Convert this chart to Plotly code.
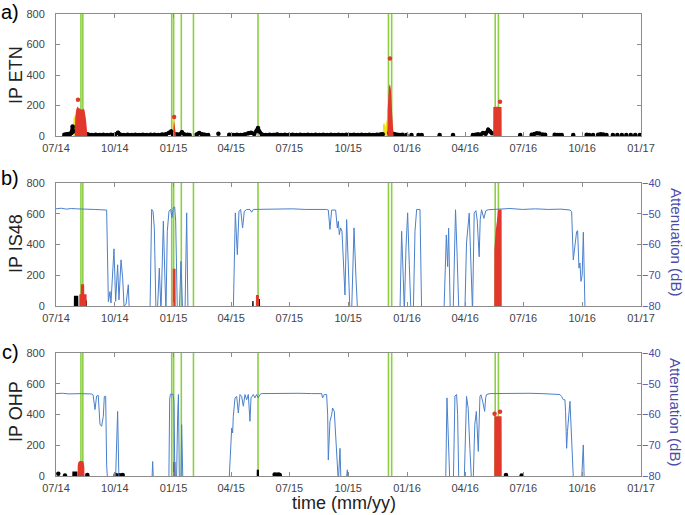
import pandas as pd
import plotly.graph_objects as go

# ---------------- data ----------------
T0 = pd.Timestamp("2014-07-01")          # day 0 of the record
T_END = "2017-01-01"

# eruptive events (green vertical lines)
event_dates = ["2014-08-09", "2014-08-12", "2014-12-29", "2015-01-01", "2015-01-13",
               "2015-02-01", "2015-05-13", "2015-12-03", "2015-12-08", "2016-05-18", "2016-05-23"]

# ---- panel a: IP ETN (days since 2014-07-01) ----
etn_base_day = [13, 16, 19, 22, 24, 26, 27, None,
                48, 51, 56, 62, 68, 74, 80, 86, 92, 97, 100, 106, 112, 118, 124, 130, 136, 142, 148, 154, 160, 166, 172, 177, 180, 183, None,
                188, 192, 197, 201, 206, 209, None,
                220, 224, 228, 232, 238, None,
                271, 277, 283, 289, 295, 301, 305, 310, 314, 316, 318, 322, 328, 334, 340, 346, 352, 358, 364, 370, 376, 382,
                388, 394, 400, 406, 412, 418, 424, 430, 436, 442, 448, 454, 460, 466, 472, 478, 484, 490, 496, 502, 508, 511, None,
                652, 656, 660, 664, 668, 672, 676, 679, 682]
etn_base_ip = [8, 10, 12, 14, 20, 62, 30, None,
               14, 8, 7, 9, 6, 8, 7, 9, 8, 22, 10, 7, 8, 6, 9, 7, 8, 6, 9, 8, 7, 10, 12, 22, 30, 10, None,
               12, 8, 24, 10, 8, 6, None,
               10, 20, 12, 8, 6, None,
               8, 6, 9, 7, 10, 18, 22, 14, 35, 52, 30, 10, 7, 9, 6, 10, 7, 9, 6, 8, 7, 9,
               6, 8, 7, 9, 6, 8, 7, 9, 6, 8, 7, 9, 6, 8, 7, 9, 6, 8, 7, 9, 10, 12, None,
               6, 8, 12, 9, 20, 15, 41, 30, 18]
etn_dot_day = [254, 521, 527, 530, 534, 538, 542, 548, 556, 567, 572, 600, 621, 726, 744, 748, 752, 756, 761, 765,
               780, 784, 788, 791, 809, 830, 834, 840, 848, 852, 856, 861, 871, 878, 885, 892, 899, 906, 913]
etn_dot_ip = [15, 20, 15, 12, 8, 6, 8, 7, 6, 7, 6, 6, 7, 6, 8, 14, 18, 16, 10, 8,
              8, 6, 7, 6, 6, 8, 6, 7, 8, 12, 10, 6, 7, 6, 7, 6, 7, 6, 6]
etn_yellow_day = [26.8, 27.2, 28.3, 29.5, 30.2, 181.8, 182.4, 183.5, 185, 186, 510.8, 511.5, 513.5, 515.5, 517, 518.5]
etn_yellow_ip = [0, 110, 140, 120, 0, 0, 110, 133, 120, 0, 0, 75, 85, 60, 118, 0]
etn_red_day = [29.4, 30, 31.5, 33.4, 35, 37, 39, 41, 42.7, 44.5, 46.5, 48, 49,
               183.3, 183.8, 184.6, 185.5, 186.5, 187.7,
               518.2, 518.7, 520.8, 522.4, 523.9, 525.5, 527.6, 528,
               683.8, 684, 690, 696.9, 697.1]
etn_red_ip = [0, 120, 170, 194, 186, 180, 176, 170, 178, 172, 120, 60, 0,
              0, 60, 96, 80, 40, 0,
              0, 170, 325, 340, 303, 170, 30, 0,
              0, 190, 192, 190, 0]
etn_reddot_day = [34.4, 184.8, 522.4, 694.5]
etn_reddot_ip = [238, 124, 508, 225]

# ---- panel b: IP IS48 ----
is48_black_day = [27.9, 28, 34.8, 35, 45.5, 45.6, 48.4, 48.5, 306.8, 307, 309, 309.2, 317.5, 317.6, 319, 319.2]
is48_black_ip = [0, 67, 67, 0, 0, 35, 35, 0, 0, 33, 33, 0, 0, 45, 45, 0]
is48_red_day = [36.4, 36.5, 38.8, 39, 44, 44.2, 47.8, 48,
                182.4, 182.6, 187, 187.2,
                312.6, 312.8, 317.3, 317.5,
                685.4, 685.6, 687.7, 689.8, 691.3, 697, 697.2]
is48_red_ip = [0, 76, 76, 142, 142, 76, 76, 0,
               0, 242, 242, 0,
               0, 72, 72, 0,
               0, 366, 486, 560, 628, 628, 0]
is48_att_day = [0, 8, 16, 24, 32, 45, 60, 70, 79.2, 81.9, 84.5, 86, 90.7, 93.3, 96.4, 98.5, 101.7, 104.3, 106.4, 109.5, 113.1, 114.7,
                147, 149.6, 151.7, 153.8, 156.4, 158.5, 161.6, 164.2, 167.9, 170.5, 172, 174.1, 176.7, 179.3, 181.4, 183.5, 185.6,
                187.2, 189.8, 192.9, 195.5, 198.1, 201.8, 204.4, 206.4,
                277.3, 280.5, 283.6, 286.2, 288.8, 291.9, 294.5, 298.2, 303.4, 306, 308.6, 330, 350, 370, 390, 410, 423.3, 425.9,
                428.5, 431.1, 437.4, 440, 441.6, 443.1, 445.2, 447.3, 449.4, 452, 454.6, 457.2, 459.8, 462.4, 466.1, 469.2, 471.8,
                538, 540.6, 543.2, 544.8, 547.4, 550, 552.6, 555.2, 558.9, 561.5, 564.1, 569.3, 571.9,
                606.8, 610.5, 612.6, 614.1, 616.7, 621.2, 624.9, 627.5, 630.1, 639.5, 642.1, 646.3, 648.9, 651.5, 654.1, 656.7,
                658.8, 661.9, 663.5, 665.6, 669.2, 672.4, 676, 690, 710, 730, 750, 770, 790, 803.9, 806.5, 809.1, 811.7, 814.3,
                815.9, 818, 819.5, 821.1, 823, 824.8, 827.5]
is48_att_db = [-48.4, -48.2, -48.5, -48.3, -48.4, -48.6, -48.6, -48.7, -48.8, -78.6, -75.3, -79, -61.4, -78.5, -66.6, -78, -65, -71, -80, -79.5, -73.1, -82,
               -82, -48.6, -49.2, -54.6, -82, -82, -67.7, -82, -52.4, -72.1, -82, -55.7, -49.2, -48.6, -51.3, -48, -47.8,
               -52.4, -82, -82, -65.5, -82, -82, -49.7, -82,
               -82, -49.7, -63.3, -49.2, -48.6, -54.6, -49.2, -48.6, -48.6, -49.5, -48.6, -48.5, -48.6, -48.4, -48.6, -48.5, -48.6, -48.8,
               -55.1, -48.8, -48.8, -54.6, -52.4, -56.8, -54.6, -55.7, -63.3, -76.4, -51.9, -66.6, -82, -82, -54.6, -71, -82,
               -82, -55.7, -71, -82, -61.1, -49.7, -66.6, -82, -82, -55.7, -48.6, -48.6, -82,
               -82, -56.9, -67.2, -54.7, -82, -82, -48.7, -64.2, -82, -82, -59.5, -49.8, -64.2, -82, -49.8, -49,
               -52, -64, -52, -48.7, -51.5, -49, -48.7, -48.5, -48.3, -48.6, -48.4, -48.6, -48.5, -48.8, -49.3, -65, -59.5, -55.8,
               -55.5, -67.7, -66, -72, -70, -56, -82]

# ---- panel c: IP OHP ----
ohp_black_day = [25.5, 25.6, 33.5, 33.6, 313.9, 314, 317.5, 317.6]
ohp_black_ip = [0, 30, 30, 0, 0, 40, 40, 0]
ohp_dot_day = [3.6, 14.1, 49, 93.3, 97.5, 100, 104.3, 342, 345, 348, 350, 703.8, 728.3]
ohp_dot_ip = [15, 4, 6, 6, 3, 5, 6, 10, 8, 9, 6, 7, 3]
ohp_red_day = [33.8, 34, 35, 37, 41, 43, 44.3, 44.5,
               182.9, 183.1, 185.5, 187, 187.2,
               685.4, 685.6, 697, 697.2]
ohp_red_ip = [0, 70, 90, 98, 98, 92, 60, 0,
              0, 90, 94, 90, 0,
              0, 388, 388, 0]
ohp_reddot_day = [686, 694.5]
ohp_reddot_ip = [405, 418]
ohp_att_day = [0, 10, 20, 30, 40, 50, 55.8, 58, 61, 63.5, 66.1, 68.8, 71.4, 74, 75.6, 77.7, 79.2, 80.8,
               93, 96.4, 98.5,
               150, 151.2, 152.4,
               176.5, 177.8, 179, 183, 184.5, 186, 188.5, 190.3, 191.5, 193, 195.5, 196.5, 198.5,
               270.6, 274.8, 276.3, 277.3, 280, 282.6, 285.2, 287.8, 290.4, 293, 295.6, 298.2, 300.8, 303.4, 305, 308.6, 311.2,
               313.8, 316.4, 319, 321.7, 340, 360, 380, 400, 415.5, 417, 419.6, 423.3, 424.9, 425.9, 428.5, 431.1, 432.7, 435.3,
               437.4, 439.5, 441.6, 444.2, 445.7,
               453.6, 455.7, 456.7,
               609.5, 611.5, 613.5, 616,
               621.5, 624, 626.6, 628.2, 630,
               638.5, 642.1, 644.7, 647.3, 650, 652.5, 655, 657.5, 660.5, 663.1, 664.7, 667.3, 670.5, 672, 673.5, 678.7, 700,
               720, 740, 760, 780, 788.2, 790.8, 793.5, 796, 797, 798.7, 800, 803.9, 806, 809.4,
               822, 824.7, 826.3]
ohp_att_db = [-53.2, -53.1, -53.3, -53.2, -53.2, -53.3, -53.3, -53.6, -58.4, -54, -53.8, -63.3, -63.8, -60.6, -54.1, -54.1, -76.4, -82,
              -82, -59, -82,
              -82, -75.3, -82,
              -82, -55, -53.4, -53.4, -56, -82, -82, -60, -53.5, -82, -82, -63.3, -82,
              -82, -64.4, -66, -60.6, -54.6, -54.1, -59.5, -53.5, -54.1, -57.3, -53.5, -55.2, -53.5, -62.2, -54.6, -53.5, -54.6,
              -53.5, -54.6, -53.5, -53.2, -53.1, -53.2, -53.1, -53.2, -53.2, -54.6, -53.5, -53.5, -60.1, -74.8, -62.2, -60.1, -57.9, -59,
              -65.5, -74.2, -82, -71, -82,
              -82, -78, -82,
              -82, -54.6, -65, -82,
              -82, -54, -53.5, -60, -82,
              -82, -54.1, -58, -71, -82, -82, -63.3, -59, -72, -54.1, -53.6, -55.7, -59, -54.6, -53.5, -53.2, -53.1,
              -53.2, -53.1, -53.2, -53.3, -53.5, -54.1, -55.2, -55.2, -59, -71, -65.5, -55.7, -65.5, -82,
              -82, -69.9, -82]

# ---------------- styling ----------------
GREEN = "#8ccf45"
RED = "#e2382b"
YELLOW = "#f2e21a"
BLUE = "#4a80cc"
PURPLE = "#4b4bab"
AXIS = "#8c8c8c"
TICKTXT = "#444444"
FONT = "Liberation Sans, Arial, sans-serif"


def D(days):
    return [None if d is None else (T0 + pd.Timedelta(days=d)).strftime("%Y-%m-%d %H:%M") for d in days]


fig = go.Figure()


def fill_trace(days, vals, color, xa, ya):
    fig.add_trace(go.Scatter(x=D(days), y=vals, mode="none", fill="tozeroy", fillcolor=color,
                             xaxis=xa, yaxis=ya, hoverinfo="skip"))


def dots(days, vals, color, size, xa, ya):
    fig.add_trace(go.Scatter(x=D(days), y=vals, mode="markers", marker=dict(color=color, size=size),
                             xaxis=xa, yaxis=ya, hoverinfo="skip"))


# panel a
fill_trace(etn_yellow_day, etn_yellow_ip, YELLOW, "x", "y")
fig.add_trace(go.Scatter(x=D(etn_base_day), y=etn_base_ip, mode="lines+markers", connectgaps=False,
                         line=dict(color="black", width=3.5), marker=dict(color="black", size=4.5),
                         xaxis="x", yaxis="y", hoverinfo="skip"))
dots(etn_dot_day, etn_dot_ip, "black", 4.5, "x", "y")
fill_trace(etn_red_day, etn_red_ip, RED, "x", "y")
dots(etn_reddot_day, etn_reddot_ip, RED, 4.5, "x", "y")

# panel b
fill_trace(is48_black_day, is48_black_ip, "black", "x2", "y2")
fill_trace(is48_red_day, is48_red_ip, RED, "x2", "y2")
fig.add_trace(go.Scatter(x=D(is48_att_day), y=is48_att_db, mode="lines", line=dict(color=BLUE, width=1),
                         xaxis="x2", yaxis="y3", hoverinfo="skip"))

# panel c
fill_trace(ohp_black_day, ohp_black_ip, "black", "x3", "y4")
dots(ohp_dot_day, ohp_dot_ip, "black", 4.5, "x3", "y4")
fill_trace(ohp_red_day, ohp_red_ip, RED, "x3", "y4")
dots(ohp_reddot_day, ohp_reddot_ip, RED, 4.5, "x3", "y4")
fig.add_trace(go.Scatter(x=D(ohp_att_day), y=ohp_att_db, mode="lines", line=dict(color=BLUE, width=1),
                         xaxis="x3", yaxis="y5", hoverinfo="skip"))

# event lines
shapes = []
for xr, yr in [("x", "y domain"), ("x2", "y2 domain"), ("x3", "y4 domain")]:
    for d in event_dates:
        shapes.append(dict(type="line", xref=xr, yref=yr, x0=d, x1=d, y0=0, y1=1,
                           line=dict(color=GREEN, width=1.6), layer="below"))

xcommon = dict(type="date", range=[T0.strftime("%Y-%m-%d"), T_END], tick0="2014-07-01", dtick="M3",
               tickformat="%m/%y", ticks="inside", ticklen=4, tickcolor=AXIS, showline=True,
               linecolor=AXIS, linewidth=1, mirror="ticks", showgrid=False, zeroline=False,
               automargin=False, ticklabelstandoff=2,
               tickfont=dict(family=FONT, size=11, color=TICKTXT))
yleft = dict(range=[0, 800], tick0=0, dtick=200, ticks="inside", ticklen=4, tickcolor=AXIS,
             showline=True, linecolor=AXIS, linewidth=1, mirror="ticks", showgrid=False, zeroline=False,
             automargin=False, tickfont=dict(family=FONT, size=11, color=TICKTXT), ticklabelstandoff=8)
yright = dict(range=[-80, -40], tick0=-80, dtick=10, ticks="inside", ticklen=4, tickcolor=AXIS,
              side="right", showline=False, showgrid=False, zeroline=False, automargin=False,
              tickfont=dict(family=FONT, size=11, color=PURPLE))

dom_a = [0.7359, 1.0]
dom_b = [0.368, 0.6342]
dom_c = [0.0, 0.2662]

fig.update_layout(
    template="none",
    width=685, height=515,
    margin=dict(l=56, r=44, t=14, b=39, autoexpand=False),
    paper_bgcolor="white", plot_bgcolor="white",
    showlegend=False,
    font=dict(family=FONT, size=11, color=TICKTXT),
    xaxis=dict(xcommon, domain=[0, 1], anchor="y"),
    xaxis2=dict(xcommon, domain=[0, 1], anchor="y2"),
    xaxis3=dict(xcommon, domain=[0, 1], anchor="y4"),
    yaxis=dict(yleft, domain=dom_a, anchor="x"),
    yaxis2=dict(yleft, domain=dom_b, anchor="x2"),
    yaxis3=dict(yright, anchor="x2", overlaying="y2"),
    yaxis4=dict(yleft, domain=dom_c, anchor="x3"),
    yaxis5=dict(yright, anchor="x3", overlaying="y4"),
    shapes=shapes,
)

ann = []
for txt, y in [("a)", 1.004), ("b)", 0.645), ("c)", 0.2684)]:
    ann.append(dict(text=txt, x=-0.0786, y=y, xref="paper", yref="paper", showarrow=False,
                    xanchor="center", yanchor="middle", font=dict(family=FONT, size=20, color="black")))
for txt, y in [("IP ETN", 0.868), ("IP IS48", 0.5043), ("IP OHP", 0.1407)]:
    ann.append(dict(text=txt, x=-0.0684, y=y, xref="paper", yref="paper", showarrow=False, textangle=-90,
                    xanchor="center", yanchor="middle", font=dict(family=FONT, size=18, color="#222222")))
for y in [0.5065, 0.1385]:
    ann.append(dict(text="Attenuation (dB)", x=1.0598, y=y, xref="paper", yref="paper", showarrow=False,
                    textangle=90, xanchor="center", yanchor="middle",
                    font=dict(family=FONT, size=15, color=PURPLE)))
ann.append(dict(text="time (mm/yy)", x=0.4923, y=-0.0584, xref="paper", yref="paper", showarrow=False,
                xanchor="center", yanchor="middle", font=dict(family=FONT, size=18, color="#222222")))
fig.update_layout(annotations=ann)

fig.write_html("out.html", config={"displayModeBar": False},
               post_script="document.body.style.margin='0';document.body.style.overflow='hidden';")
